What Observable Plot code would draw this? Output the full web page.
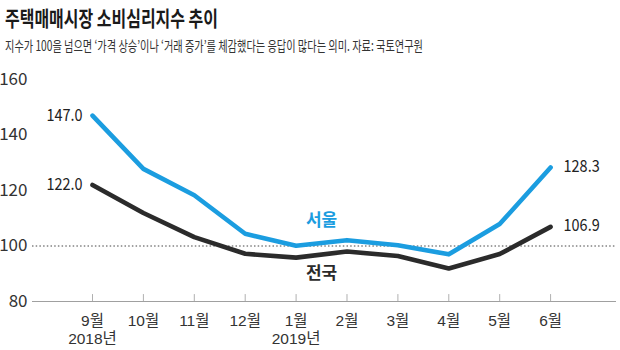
<!DOCTYPE html>
<html>
<head>
<meta charset="utf-8">
<script src="https://cdn.jsdelivr.net/npm/d3@7"></script>
<script src="https://cdn.jsdelivr.net/npm/@observablehq/plot@0.6"></script>
<style>
  html, body { margin: 0; padding: 0; background: #fff; }
  #wrap { width: 620px; height: 350px; overflow: hidden; }
  #head { position: relative; width: 620px; height: 56px; }
  #title { position: absolute; left: 5px; top: 4px; font-family: "Noto Sans CJK KR", sans-serif; font-weight: 700; font-size: 21px; line-height: 26px; color: #1a1a1a; white-space: nowrap; transform-origin: 0 50%; }
  #sub { position: absolute; left: 5px; top: 36px; font-family: "Noto Sans CJK KR", sans-serif; font-size: 14px; line-height: 18px; color: #333; white-space: nowrap; transform-origin: 0 50%; }
  svg { display: block; }
</style>
</head>
<body>
<div id="wrap">
  <div id="head">
    <div id="title">주택매매시장 소비심리지수 추이</div>
    <div id="sub">지수가 100을 넘으면 ‘가격 상승’이나 ‘거래 증가’를 체감했다는 응답이 많다는 의미. 자료: 국토연구원</div>
  </div>
  <div id="chart"></div>
</div>
<script>
const months = ["9월","10월","11월","12월","1월","2월","3월","4월","5월","6월"];
const years = ["2018년","","","","2019년","","","","",""];
const seoul = [147.0, 127.8, 118.3, 104.4, 100.1, 102.1, 100.3, 97.0, 107.9, 128.3];
const national = [122.0, 111.9, 103.2, 97.2, 95.8, 98.0, 96.4, 91.9, 97.1, 106.9];
const yTicks = [80, 100, 120, 140, 160];
const seriesNames = ["서울", "전국"];

const numFont = "'Noto Sans CJK KR', sans-serif";
const axisFont = "'Liberation Sans', 'Noto Sans CJK KR', sans-serif";
const idx = months.map((m, i) => i);
const seoulData = idx.map(i => ({i, v: seoul[i]}));
const natData = idx.map(i => ({i, v: national[i]}));
const axisRows = idx.map(i => ({i, v: yTicks[0], month: months[i], year: years[i]}));
const yearRows = axisRows.filter(d => d.year !== "");
const blue = "#1b9de0";
const dark = "#2b2b2b";

const first = 0, last = months.length - 1;
const mid = (months.length - 1) / 2;

const chart = Plot.plot({
  width: 620,
  height: 294,
  marginTop: 23,
  marginBottom: 49,
  marginLeft: 32,
  marginRight: 4,
  style: {background: "transparent", fontFamily: numFont},
  x: {type: "linear", domain: [-1.179, 10.295], axis: null},
  y: {type: "linear", domain: [80, 160], axis: null},
  marks: [
    Plot.axisY(yTicks, {tickSize: 0, tickPadding: 5, fontSize: 17, fill: "#333", fontFamily: numFont, label: null}),
    Plot.ruleY([100], {stroke: "#444", strokeWidth: 1, strokeDasharray: "1.5,2.2"}),
    Plot.ruleY([80], {stroke: "#a0a0a0", strokeWidth: 1.2}),
    Plot.ruleX(axisRows, {x: "i", y1: "v", y2: d => d.v + 2.5, stroke: "#b0b0b0", strokeWidth: 1}),
    Plot.text(axisRows, {x: "i", y: "v", text: "month", dy: 20, fontSize: 15.5, fill: "#333", fontFamily: axisFont}),
    Plot.text(yearRows, {x: "i", y: "v", text: "year", dy: 38, fontSize: 15.5, fill: "#333", fontFamily: axisFont}),
    Plot.line(natData, {x: "i", y: "v", stroke: dark, strokeWidth: 4.6, strokeLinejoin: "round", strokeLinecap: "round"}),
    Plot.line(seoulData, {x: "i", y: "v", stroke: blue, strokeWidth: 4.6, strokeLinejoin: "round", strokeLinecap: "round"}),
    Plot.text([seoulData[first], natData[first]], {x: "i", y: "v", text: d => d.v.toFixed(1), textAnchor: "end", dx: -10, fontSize: 17, fill: "#222", fontFamily: numFont}),
    Plot.text([seoulData[last], natData[last]], {x: "i", y: "v", text: d => d.v.toFixed(1), textAnchor: "start", dx: 13, dy: -1, fontSize: 17, fill: "#222", fontFamily: numFont}),
    Plot.text([{i: mid, v: (seoul[4] + seoul[5]) / 2}], {x: "i", y: "v", text: () => seriesNames[0], dy: -22, fontSize: 17, fontWeight: 700, fill: blue, fontFamily: "'Noto Sans CJK KR', sans-serif"}),
    Plot.text([{i: mid, v: (national[4] + national[5]) / 2}], {x: "i", y: "v", text: () => seriesNames[1], dy: 19, fontSize: 17, fontWeight: 700, fill: dark, fontFamily: "'Noto Sans CJK KR', sans-serif"})
  ]
});
document.getElementById("chart").appendChild(chart);

// condense the numeric end labels (the reference uses a narrow typeface)
const endLabels = new Set([seoul[first], national[first], seoul[last], national[last]].map(v => v.toFixed(1)));
chart.querySelectorAll("text").forEach(t => {
  if (endLabels.has(t.textContent)) {
    const tr = t.getAttribute("transform") || "";
    t.setAttribute("transform", tr + " scale(0.85,1)");
  }
});

function fit(id, target) {
  const el = document.getElementById(id);
  const w = el.getBoundingClientRect().width;
  el.style.transform = `scaleX(${target / w})`;
}
fit("title", 213);
fit("sub", 418);
</script>
</body>
</html>
